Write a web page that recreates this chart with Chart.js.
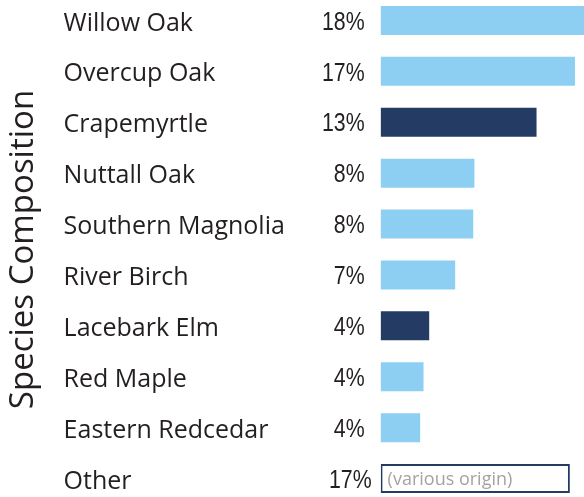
<!DOCTYPE html>
<html>
<head>
<meta charset="utf-8">
<script src="https://cdn.jsdelivr.net/npm/chart.js@4"></script>
<style>
  html, body { margin: 0; padding: 0; background: #fff; overflow: hidden; }
  #wrap { position: absolute; left: 0; top: -5px; width: 584px; height: 509px; }
</style>
</head>
<body>
<div id="wrap"><canvas id="grafico"></canvas></div>
<script>
const species = ['Willow Oak', 'Overcup Oak', 'Crapemyrtle', 'Nuttall Oak', 'Southern Magnolia',
  'River Birch', 'Lacebark Elm', 'Red Maple', 'Eastern Redcedar', 'Other'];
const shares = [18, 17.2, 13.8, 8.3, 8.2, 6.6, 4.3, 3.8, 3.5, 16.75];
const shareLabels = ['18%', '17%', '13%', '8%', '8%', '7%', '4%', '4%', '4%', '17%'];
const nonNative = [false, false, true, false, false, false, true, false, false, false];
const otherNote = '(various origin)';
const axisTitle = 'Species Composition';

const lightBlue = '#8dcff2';
const navy = '#243c64';
const textColor = '#231f20';

// etiquetas de porcentaje y nota de "Other"
const etiquetas = {
  id: 'etiquetas',
  afterDatasetsDraw(chart) {
    const ctx = chart.ctx;
    const yScale = chart.scales.y;
    const left = chart.chartArea.left;
    const last = species.length - 1;
    ctx.save();
    ctx.fillStyle = textColor;
    ctx.font = '26px "Liberation Sans", sans-serif';
    ctx.textAlign = 'right';
    ctx.textBaseline = 'middle';
    shareLabels.forEach((lbl, i) => {
      const x = left - (i === last ? 9 : 16);
      const y = yScale.getPixelForValue(i) + 2;
      // letra angosta: se comprime en horizontal
      ctx.save();
      ctx.translate(x, y);
      ctx.scale(0.82, 1);
      ctx.fillText(lbl, 0, 0);
      ctx.restore();
    });
    ctx.fillStyle = '#a3a3a3';
    ctx.font = '18px "Open Sans", sans-serif';
    ctx.textAlign = 'left';
    ctx.fillText(otherNote, left + 7, yScale.getPixelForValue(last) + 1);
    ctx.restore();
  }
};

const ctx = document.getElementById('grafico').getContext('2d');
new Chart(ctx, {
  type: 'bar',
  data: {
    labels: species,
    datasets: [{
      data: shares,
      backgroundColor: species.map((s, i) => i === species.length - 1 ? '#ffffff' : (nonNative[i] ? navy : lightBlue)),
      borderColor: species.map((s, i) => i === species.length - 1 ? navy : 'rgba(0,0,0,0)'),
      borderWidth: species.map((s, i) => i === species.length - 1 ? 2 : 0),
      borderSkipped: false,
      barPercentage: 0.57,
      categoryPercentage: 1
    }]
  },
  options: {
    indexAxis: 'y',
    responsive: true,
    maintainAspectRatio: false,
    animation: false,
    layout: { padding: 0 },
    plugins: {
      legend: { display: false },
      tooltip: { enabled: false },
      title: {
        display: true,
        text: axisTitle,
        position: 'left',
        color: textColor,
        font: { family: '"Open Sans", sans-serif', size: 33, weight: 'normal', lineHeight: 1.2 },
        padding: { top: 4, bottom: 20 }
      }
    },
    scales: {
      x: { display: false, min: 0, max: 18 },
      y: {
        grid: { display: false },
        border: { display: false },
        afterFit: s => {
          s.width = 317;
          s.paddingTop = 0;
          s.paddingBottom = 0;
        },
        ticks: {
          crossAlign: 'far',
          autoSkip: false,
          labelOffset: 3,
          color: textColor,
          font: { family: '"Open Sans", sans-serif', size: 25 }
        }
      }
    }
  },
  plugins: [etiquetas]
});
</script>
</body>
</html>
